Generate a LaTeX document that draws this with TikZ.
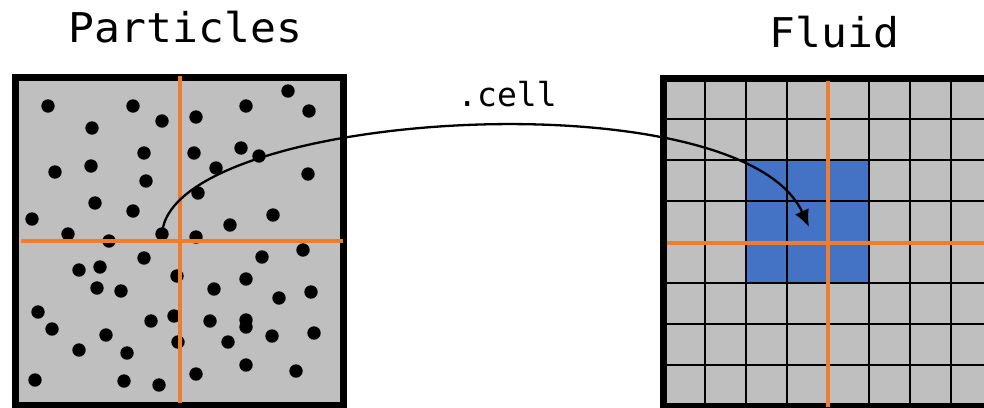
\documentclass[tikz,border=0pt]{standalone}
\usepackage{fontspec}
\usepackage{tikz}
\usetikzlibrary{arrows.meta}
\newfontfamily\codefont{DejaVu Sans Mono}
\newfontfamily\widecodefont[FakeStretch=1.05]{DejaVu Sans Mono}
\definecolor{boxgray}{HTML}{BFBFBF}
\definecolor{cellblue}{HTML}{4472C4}
\definecolor{axisorange}{HTML}{ED7D31}
\tikzset{>={Latex[length=17pt,width=15pt]},font=\codefont}
\tikzset{title/.style={anchor=base,font=\widecodefont\fontsize{41}{41}\selectfont}}
\tikzset{frame/.style={line width=7pt},axis/.style={axisorange,line width=4pt}}

\begin{document}
\begin{tikzpicture}[x=1pt,y=-1pt]
\useasboundingbox (0,0) rectangle (984,407);
\clip (0,0) rectangle (984,407);

\node[title] (Parts) at (185.5,42) {Particles};
\node[title] (Fluid) at (834.7,47.5) {Fluid};

% particles
\fill[boxgray] (15.5,77.5) rectangle (343.5,405.5);
\foreach \x/\y in {48/106,133/106,162/121,196/117,246/106,288/91,309/111,
  92/128,144/153,194/153,241/148,259/156,216/168,55/172,91/166,146/181,
  308/174,95/203,133/211,198/193,32/219,273/215,230/225,68/234,162/234,
  109/241,196/237,303/250,144/258,262/257,79/270,100/267,177/276,246/279,
  97/288,121/291,214/289,279/298,311/292,38/312,52/329,151/321,174/316,
  210/321,246/320,246/327,106/335,178/342,228/342,272/336,314/333,79/350,
  127/353,246/365,296/371,35/380,124/381,159/385,196/374}
  \fill (\x,\y) circle (6.7pt);
\draw[frame] (15.5,77.5) rectangle (343.5,405.5);
\draw[axis] (180,76) -- (180,403);
\draw[axis] (21,241) -- (343,241);

% fluid
\fill[boxgray] (663.5,78) rectangle (991.5,406);
\fill[cellblue] (745.5,160) rectangle (868.5,283);
\foreach \k in {1,...,7} {
  \draw[line width=2pt] (663.5+41*\k,78) -- (663.5+41*\k,406);
  \draw[line width=2pt] (663.5,78+41*\k) -- (991.5,78+41*\k);
}
\draw[frame] (663.5,78) rectangle (991.5,406);
\draw[axis] (827.5,81) -- (827.5,407);
\draw[axis] (667,243) -- (984,243);

\coordinate (src) at (162,234);
\coordinate (dst) at (809,227);
\draw[->,line width=2.3pt] (src) .. controls (170,110) and (740,75) .. (dst);
\node[anchor=base,font=\codefont\fontsize{33}{33}\selectfont] (cell) at (507,106) {.cell};

\end{tikzpicture}
\end{document}
